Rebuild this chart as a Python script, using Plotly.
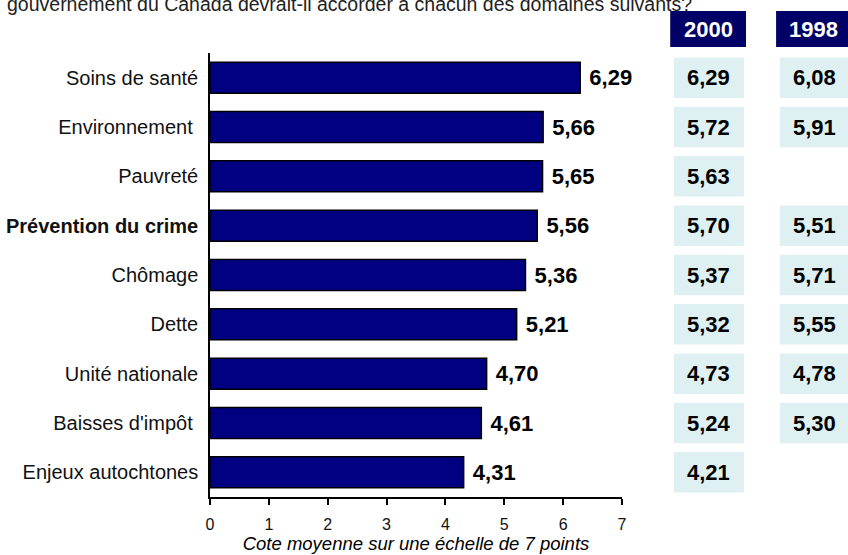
import plotly.graph_objects as go

categories = ["Soins de santé", "Environnement ", "Pauvreté", "<b>Prévention du crime</b>",
              "Chômage", "Dette", "Unité nationale", "Baisses d'impôt ", "Enjeux autochtones"]
values_main = [6.29, 5.66, 5.65, 5.56, 5.36, 5.21, 4.70, 4.61, 4.31]
values_2000 = [6.29, 5.72, 5.63, 5.70, 5.37, 5.32, 4.73, 5.24, 4.21]
values_1998 = [6.08, 5.91, None, 5.51, 5.71, 5.55, 4.78, 5.30, None]
x_ticks = [0, 1, 2, 3, 4, 5, 6, 7]
title_text = "gouvernement du Canada devrait-il accorder à chacun des domaines suivants?"
x_title = "Cote moyenne sur une échelle de 7 points"

def fmt(v):
    return f"{v:.2f}".replace(".", ",")

FONT = "Liberation Sans, Arial, sans-serif"
NAVY = "#000080"
CELL = "#dff0f3"

fig = go.Figure()
fig.add_trace(go.Bar(
    y=categories, x=values_main, orientation="h",
    marker=dict(color=NAVY, line=dict(color="black", width=1.5)),
    width=0.63,
    text=[f" <b>{fmt(v)}</b>" for v in values_main], textposition="outside",
    textfont=dict(family=FONT, size=22, color="black"),
    cliponaxis=False, hoverinfo="skip",
))

shapes = []
annotations = []

# column headers
col_2000 = (1.126, 1.296)
col_1998 = (1.383, 1.58)
head_2000 = (1.117, 1.301)
head_1998 = (1.374, 1.58)
for label, (x0, x1), cx in [("2000", head_2000, (head_2000[0] + head_2000[1]) / 2),
                            ("1998", head_1998, head_1998[0] + (head_2000[1] - head_2000[0]) / 2)]:
    shapes.append(dict(type="rect", xref="paper", yref="paper", x0=x0, x1=x1,
                       y0=1.0135, y1=1.0946, fillcolor="#000066", line=dict(width=0), layer="above"))
    annotations.append(dict(xref="paper", yref="paper", x=cx, y=1.054,
                            xanchor="center", yanchor="middle",
                            text=f"<b>{label}</b>", showarrow=False,
                            font=dict(family=FONT, size=22, color="white")))

for i, cat in enumerate(categories):
    for vals, (x0, x1) in [(values_2000, col_2000), (values_1998, col_1998)]:
        v = vals[i]
        if v is None:
            continue
        shapes.append(dict(type="rect", xref="paper", yref="y", x0=x0, x1=x1,
                           y0=i - 0.41, y1=i + 0.41, fillcolor=CELL, line=dict(width=0)))
        cx = x0 + (col_2000[1] - col_2000[0]) / 2
        annotations.append(dict(xref="paper", yref="y", x=cx, y=i,
                                xanchor="center", yanchor="middle",
                                text=f"<b>{fmt(v)}</b>", showarrow=False,
                                font=dict(family=FONT, size=22, color="black")))

annotations.append(dict(xref="paper", yref="paper", x=-0.4976, y=1.0946, xanchor="left", yanchor="bottom",
                        yshift=-6, text=title_text, showarrow=False, align="left",
                        font=dict(family=FONT, size=19.5, color="#222222")))

fig.update_layout(
    width=848, height=555,
    margin=dict(l=210, r=226, t=53, b=58),
    paper_bgcolor="white", plot_bgcolor="white",
    showlegend=False,
    shapes=shapes, annotations=annotations,
    font=dict(family=FONT, color="black"),
    xaxis=dict(range=[0, 7], tickvals=x_ticks, ticktext=[str(t) for t in x_ticks],
               automargin=False,
               showgrid=False, zeroline=False, showline=True, linecolor="black", linewidth=1.5,
               ticks="outside", ticklen=6, tickwidth=1.5, tickcolor="black",
               ticklabelstandoff=6,
               tickfont=dict(family=FONT, size=16, color="#111111"),
               title=dict(text=f"<i>{x_title}</i>", standoff=2,
                          font=dict(family=FONT, size=18.5, color="black"))),
    yaxis=dict(categoryorder="array", categoryarray=categories, automargin=False,
               range=[8.5, -0.5], showgrid=False, zeroline=False, showline=True,
               linecolor="black", linewidth=1.5, ticks="", ticklabelstandoff=6,
               tickfont=dict(family=FONT, size=20, color="#111111")),
)

fig.write_html("out.html", config={"displayModeBar": False})
with open("out.html", encoding="utf-8") as f:
    html = f.read()
html = html.replace("<head>", "<head><style>html,body{margin:0;padding:0;overflow:hidden}</style>", 1)
with open("out.html", "w", encoding="utf-8") as f:
    f.write(html)
